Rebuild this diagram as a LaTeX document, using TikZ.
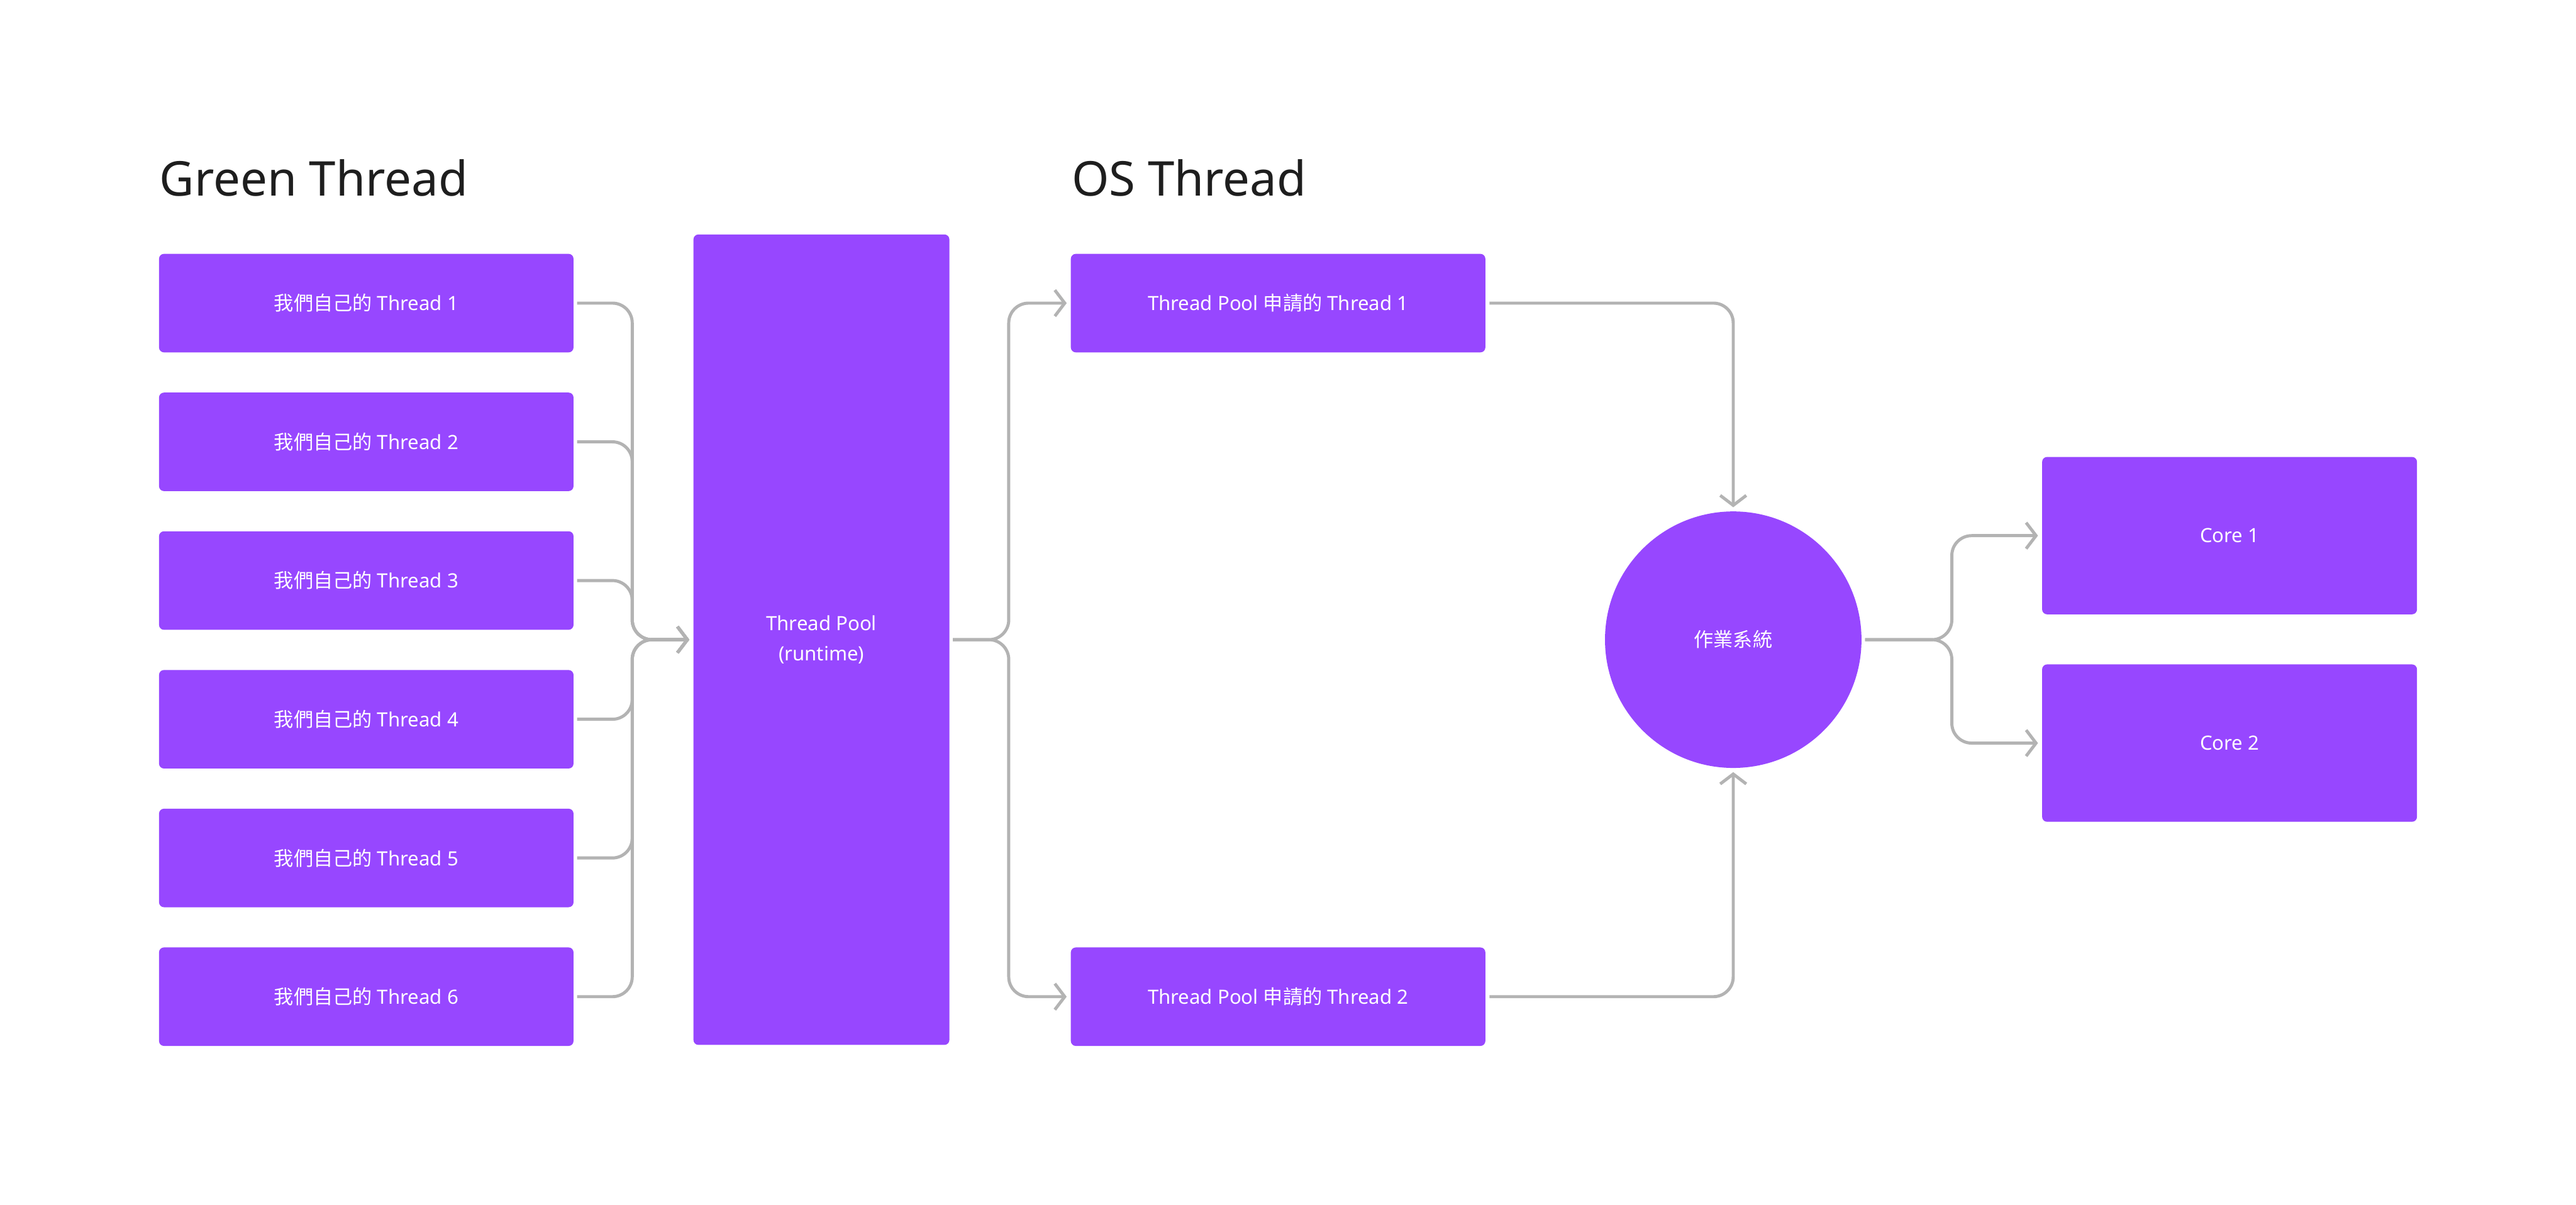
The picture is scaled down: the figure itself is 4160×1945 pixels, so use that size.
\documentclass[tikz,border=0pt]{standalone}
\usepackage{fontspec}
\setmainfont{Noto Sans}
\newfontfamily\cjk{Noto Sans CJK TC}
\usepackage{xcolor}
\definecolor{figpurple}{HTML}{9747FF}
\definecolor{linegray}{HTML}{B3B3B3}
\definecolor{titleblack}{HTML}{1E1E1E}
\usetikzlibrary{arrows.meta}
\usetikzlibrary{positioning}
\usetikzlibrary{calc}

\begin{document}
\begin{tikzpicture}[x=0.01cm, y=-0.01cm,
	box/.style={fill=figpurple, rounded corners=0.08cm, text=white, minimum width=6.69cm, minimum height=1.59cm, inner sep=0pt, align=center, font=\fontsize{9}{13.6}\selectfont},
	title/.style={anchor=base west, inner sep=0pt, text=titleblack, font=\fontsize{22}{26}\selectfont},
	link/.style={draw=linegray, line width=0.05cm, rounded corners=0.32cm, -{Straight Barb[length=0.16cm, width=0.42cm]}}]
	\fill[white] (0,0) rectangle (4160,1945);
	\useasboundingbox (0,0) rectangle (4160,1945);
				% titles
	\node[title] (gtitle) at (257,316) {Green Thread};
	\node[title] (ostitle) at (1730,316) {OS Thread};
				% green threads
	\foreach \i in {1,...,6}
		\node[box] (g\i) at (591.5,{489.5+224*(\i-1)}) {{\cjk 我們自己的} Thread \i};
	\node[box, minimum width=4.13cm, minimum height=13.08cm] (pool) at (1326.5,1033) {Thread Pool\\(runtime)};
				% os threads
	\node[box] (os1) at (2064,489.5) {Thread Pool {\cjk 申請的} Thread 1};
	\node[box] (os2) at (2064,1609.5) {Thread Pool {\cjk 申請的} Thread 2};
	\node[circle, fill=figpurple, minimum size=4.14cm, inner sep=0pt, text=white, font=\fontsize{9}{13.6}\selectfont] (sys) at (2799,1033) {\cjk 作業系統};
	\node[box, minimum width=6.05cm, minimum height=2.54cm] (core1) at (3600.5,865) {Core 1};
	\node[box, minimum width=6.05cm, minimum height=2.54cm] (core2) at (3600.5,1200) {Core 2};
				% connectors
	\coordinate (gjoin) at (1021,1033);
	\coordinate (pjoin) at (1629,1033);
	\coordinate (cjoin) at (3152,1033);
	\foreach \i in {1,...,6}
		\draw[link] ([xshift=0.05cm]g\i.east) -| (gjoin) -- ([xshift=-0.06cm]pool.west);
	\draw[link] ([xshift=0.05cm]pool.east) -- (pjoin) |- ([xshift=-0.06cm]os1.west);
	\draw[link] ([xshift=0.05cm]pool.east) -- (pjoin) |- ([xshift=-0.06cm]os2.west);
	\draw[link] ([xshift=0.06cm]os1.east) -| ([yshift=0.06cm]sys.north);
	\draw[link] ([xshift=0.06cm]os2.east) -| ([yshift=-0.06cm]sys.south);
	\draw[link] ([xshift=0.05cm]sys.east) -- (cjoin) |- ([xshift=-0.06cm]core1.west);
	\draw[link] ([xshift=0.05cm]sys.east) -- (cjoin) |- ([xshift=-0.06cm]core2.west);
\end{tikzpicture}
\end{document}
